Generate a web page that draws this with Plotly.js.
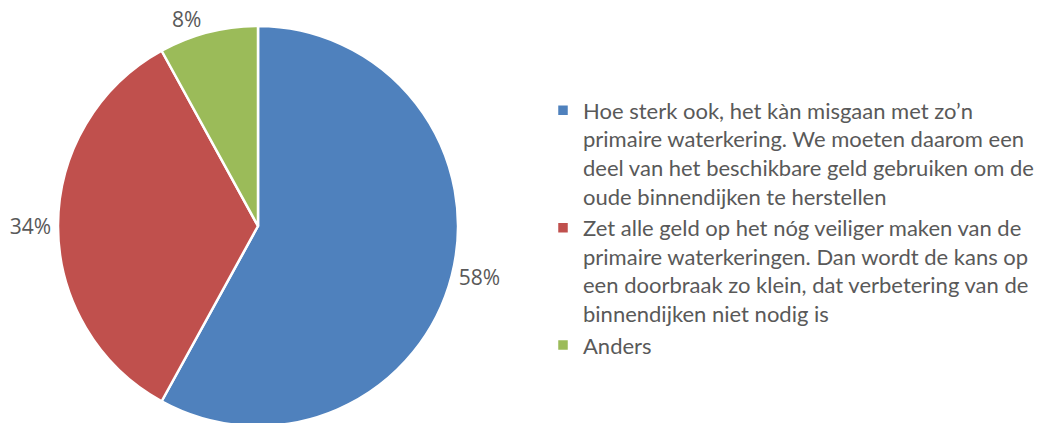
<!DOCTYPE html>
<html>
<head>
<meta charset="utf-8">
<script src="https://cdn.plot.ly/plotly-3.0.1.min.js"></script>
<style>
html,body{margin:0;padding:0;overflow:hidden;background:#fff;}
#chart{width:1043px;height:430px;}
</style>
</head>
<body>
<div id="chart"></div>
<script>
const categories = [
  "Hoe sterk ook, het kàn misgaan met zo’n<br>primaire waterkering. We moeten daarom een<br>deel van het beschikbare geld gebruiken om de<br>oude binnendijken te herstellen",
  "Zet alle geld op het nóg veiliger maken van de<br>primaire waterkeringen. Dan wordt de kans op<br>een doorbraak zo klein, dat verbetering van de<br>binnendijken niet nodig is",
  "Anders"
];
const values = [58, 34, 8];
const colors = ["#4F81BD", "#C0504D", "#9BBB59"];

const W = 1043, H = 430;
const trace = {
  type: "pie",
  labels: categories,
  values: values,
  sort: false,
  direction: "clockwise",
  rotation: 0,
  marker: {colors: colors, line: {color: "#ffffff", width: 2.5}},
  textinfo: "percent",
  texttemplate: "%{percent:.0%}",
  textposition: "outside",
  outsidetextfont: {family: "Open Sans, sans-serif", size: 21, color: "#595959"},
  domain: {x: [58 / W, 458 / W], y: [(H - 426) / H, (H - 26) / H]},
  hoverinfo: "label+percent"
};
const layout = {
  width: W,
  height: H,
  margin: {l: 0, r: 0, t: 0, b: 0},
  paper_bgcolor: "#ffffff",
  showlegend: true,
  legend: {
    x: 543 / W, xanchor: "left",
    y: (H - 228) / H, yanchor: "middle",
    valign: "top",
    font: {family: "Lato, sans-serif", size: 22, color: "#595959"},
    itemwidth: 30,
    traceorder: "normal"
  }
};
Plotly.newPlot("chart", [trace], layout, {displayModeBar: false, staticPlot: true});
</script>
</body>
</html>
